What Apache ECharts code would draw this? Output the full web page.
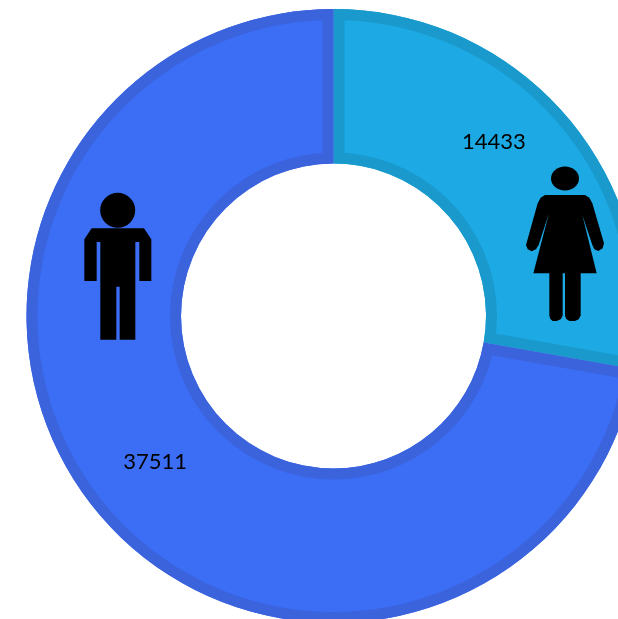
<!DOCTYPE html>
<html>
<head>
<meta charset="utf-8">
<style>html,body{margin:0;padding:0;background:#fff}#c{width:618px;height:619px}</style>
<script src="https://cdn.jsdelivr.net/npm/echarts@6/dist/echarts.min.js"></script>
</head>
<body>
<div id="c"></div>
<script>
const categories = ['Women', 'Men'];
const values = [14433, 37511];
const fillColors = ['#1CA9E4', '#3C6DF5'];
const edgeColors = ['#1A9ACC', '#3B63DC'];
const labelShift = [[-18, -25], [0, -4]];

const cx = 333.5, cy = 316, r0 = 152.5, r1 = 307, edge = 11;
const total = values.reduce((a, b) => a + b, 0);

function sectorShape(i) {
  const before = values.slice(0, i).reduce((a, b) => a + b, 0);
  return {
    cx, cy, r0, r: r1,
    startAngle: -Math.PI / 2 + before / total * 2 * Math.PI,
    endAngle: -Math.PI / 2 + (before + values[i]) / total * 2 * Math.PI,
    clockwise: true
  };
}

// icon outlines, traced on a 3x grid
const manBody = [[95,175],[252,175],[274,208],[274,333],[238,333],[238,216],[226,216],[226,509],[179,509],[179,350],[169,350],[169,509],[121,509],[121,216],[110,216],[110,333],[73,333],[73,208]];
const womanBody = [[135,135],[255,135],[268,143],[277,160],[312,280],[308,295],[295,303],[283,298],[277,285],[247,195],[290,370],[242,370],[242,497],[236,508],[225,513],[208,513],[199,507],[195,497],[195,370],[188,370],[188,497],[182,508],[170,513],[158,513],[151,507],[148,497],[148,370],[100,370],[147,190],[116,285],[108,298],[95,304],[83,298],[78,285],[113,160],[122,143]];

const chart = echarts.init(document.getElementById('c'), null, { renderer: 'canvas' });
chart.setOption({
  animation: false,
  backgroundColor: '#fff',
  series: [
    {
      type: 'pie',
      center: [cx, cy],
      radius: [r0, r1],
      startAngle: 90,
      clockwise: true,
      silent: true,
      z: 1,
      label: {
        show: true, position: 'inside', formatter: '{c}',
        fontFamily: 'Lato', fontSize: 22, color: '#000'
      },
      labelLine: { show: false },
      data: categories.map((name, i) => ({
        name, value: values[i],
        itemStyle: { color: fillColors[i] },
        label: { offset: labelShift[i] }
      }))
    },
    {
      type: 'custom',
      coordinateSystem: 'none',
      silent: true,
      z: 5,
      clip: false,
      data: values.map((v) => [v]),
      dimensions: ['value'],
      encode: { value: 0 },
      renderItem: (params) => ({
        type: 'group',
        clipPath: { type: 'sector', shape: sectorShape(params.dataIndex) },
        children: [{
          type: 'sector',
          shape: sectorShape(params.dataIndex),
          style: { fill: 'transparent', stroke: edgeColors[params.dataIndex], lineWidth: edge * 2 }
        }]
      })
    }
  ],
  graphic: [
    { type: 'circle', shape: { cx: 117.7, cy: 210.3, r: 17.5 }, style: { fill: '#000' }, z: 10 },
    { type: 'polygon', x: 60, y: 170, scaleX: 1/3, scaleY: 1/3, shape: { points: manBody }, style: { fill: '#000' }, z: 10 },
    { type: 'ellipse', shape: { cx: 565, cy: 178.5, rx: 14, ry: 12 }, style: { fill: '#000' }, z: 10 },
    { type: 'polygon', x: 500, y: 150, scaleX: 1/3, scaleY: 1/3, shape: { points: womanBody }, style: { fill: '#000' }, z: 10 }
  ]
});
</script>
</body>
</html>
